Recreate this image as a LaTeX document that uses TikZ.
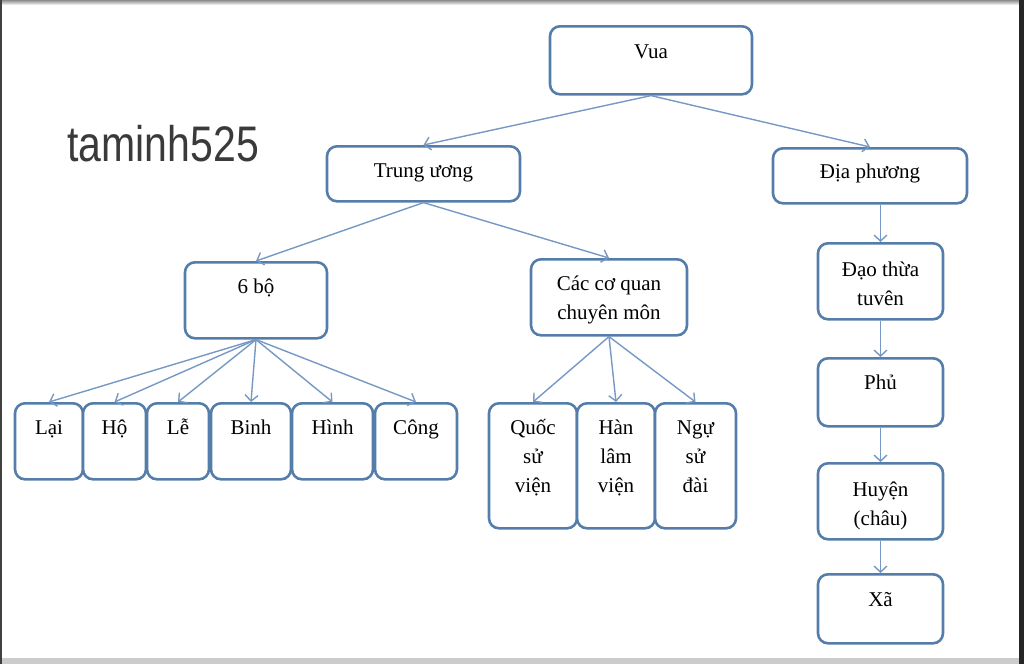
\documentclass[tikz,border=0pt]{standalone}
\usepackage{fontspec}
\setmainfont{Liberation Serif}
\newfontfamily\wmfont{Liberation Sans}
\usetikzlibrary{arrows.meta}
\definecolor{boxblue}{RGB}{84,125,170}
\definecolor{lineblue}{RGB}{118,152,196}
\definecolor{wmgray}{RGB}{58,58,58}
\renewcommand{\arraystretch}{1.15}
\newcommand{\lines}[1]{\begin{tabular}[t]{@{}c@{}}#1\end{tabular}}

\begin{document}
\begin{tikzpicture}[x=0.5pt,y=-0.5pt]
        \tikzset{>={Straight Barb[length=3pt,width=6.5pt]}}
        \tikzstyle{every node}=[font=\fontsize{10.5}{12.6}\selectfont]
        \tikzstyle{box}=[draw=boxblue,line width=1.3pt,rounded corners=5pt,fill=white,inner sep=0pt,anchor=north]
        \tikzstyle{link}=[->,draw=lineblue,line width=0.7pt]

        \useasboundingbox (0,0) rectangle (1024,664);
        \shade[top color=black!45,bottom color=black!10] (0,0) rectangle (1024,4);
        \fill[black!20] (0,658) rectangle (1024,664);
        \fill[black!75] (0,0) rectangle (2,664);
        \fill[black!85] (1019,0) rectangle (1024,664);

        \node[anchor=base west,inner sep=0pt,text=wmgray,font=\wmfont\fontsize{25}{30}\selectfont] (wm) at (67,161) {\scalebox{0.82}[1]{taminh525}};

        \node[box,minimum width=101pt,text height=16pt,text depth=18pt] (vua) at (651,25) {Vua};
        \node[box,minimum width=96.5pt,text height=15.5pt,text depth=12pt] (trung) at (423.5,145) {Trung ương};
        \node[box,minimum width=97pt,text height=15pt,text depth=12.5pt] (dia) at (870,147) {Địa phương};

        \node[box,minimum width=71pt,text height=15.5pt,text depth=22.5pt] (sixbo) at (256,261) {6 bộ};
        \node[box,minimum width=78pt,text height=15.5pt,text depth=22.5pt] (coquan) at (609,258) {\lines{Các cơ quan\\chuyên môn}};

        \node[box,minimum width=34pt,text height=15.5pt,text depth=22.5pt] (lai) at (49,402) {Lại};
        \node[box,minimum width=31.5pt,text height=15.5pt,text depth=22.5pt] (ho) at (114.5,402) {Hộ};
        \node[box,minimum width=31pt,text height=15.5pt,text depth=22.5pt] (le) at (178,402) {Lễ};
        \node[box,minimum width=40pt,text height=15.5pt,text depth=22.5pt] (binh) at (251,402) {Binh};
        \node[box,minimum width=40.5pt,text height=15.5pt,text depth=22.5pt] (hinh) at (332.5,402) {Hình};
        \node[box,minimum width=41pt,text height=15.5pt,text depth=22.5pt] (cong) at (416,402) {Công};

        \node[box,minimum width=44pt,text height=15.5pt,text depth=47pt] (quoc) at (533,402) {\lines{Quốc\\sử\\viện}};
        \node[box,minimum width=39pt,text height=15.5pt,text depth=47pt] (han) at (616,402) {\lines{Hàn\\lâm\\viện}};
        \node[box,minimum width=40.5pt,text height=15.5pt,text depth=47pt] (ngu) at (695.5,402) {\lines{Ngự\\sử\\đài}};

        \node[box,minimum width=62.5pt,text height=16.5pt,text depth=21.5pt] (dao) at (880.5,242) {\lines{Đạo thừa\\tuvên}};
        \node[box,minimum width=62.5pt,text height=15.5pt,text depth=18.5pt] (phu) at (880.5,357) {Phủ};
        \node[box,minimum width=62.5pt,text height=16.5pt,text depth=21.5pt] (huyen) at (880.5,462) {\lines{Huyện\\(châu)}};
        \node[box,minimum width=62.5pt,text height=16pt,text depth=18.5pt] (xa) at (880.5,573) {Xã};

        \draw[link] (vua.south) -- (trung.north);
        \draw[link] (vua.south) -- (dia.north);
        \draw[link] (trung.south) -- (sixbo.north);
        \draw[link] (trung.south) -- (coquan.north);
        \foreach \n in {lai,ho,le,binh,hinh,cong}
            \draw[link] (sixbo.south) -- (\n.north);
        \foreach \n in {quoc,han,ngu}
            \draw[link] (coquan.south) -- (\n.north);
        \draw[link] (dao.north |- dia.south) -- (dao.north);
        \foreach \a/\b in {dao/phu,phu/huyen,huyen/xa}
            \draw[link] (\a.south) -- (\b.north);
    \end{tikzpicture}
\end{document}
